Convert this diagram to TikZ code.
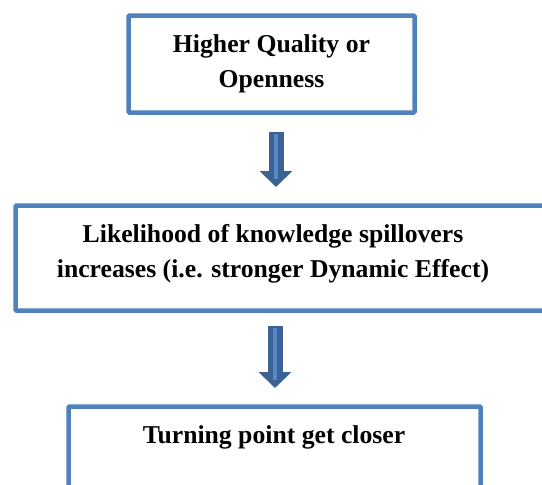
\documentclass[tikz,border=0pt]{standalone}
\usepackage{fontspec}
\setmainfont{Liberation Serif}
\usetikzlibrary{arrows.meta, calc}

\definecolor{boxblue}{RGB}{79,129,189}
\definecolor{arrowdark}{RGB}{60,98,148}
\definecolor{arrowlight}{RGB}{84,136,198}

\tikzset{
    flowbox/.style = {draw = boxblue, line width = 4.5pt, rounded corners = 1pt, inner sep = 0pt},
    boxtext/.style = {align = center, inner sep = 0pt, font = \fontsize{25.7pt}{35pt}\selectfont\bfseries},
    flowarrow/.style = {draw = arrowdark, line width = 15pt,
        -{Triangle[width = 32pt, length = 16pt]},
        postaction = {draw = arrowlight, line width = 4pt, -, shorten < = 2pt, shorten > = 8pt}}
}

\begin{document}
\begin{tikzpicture}[x = 1pt, y = -1pt]
    \useasboundingbox (0,0) rectangle (542,485);
    \clip (0,0) rectangle (542,485);
    \node[flowbox, minimum width = 286pt, minimum height = 97pt, boxtext] (quality) at (271.5,64) {Higher Quality or\\Openness};
    \node[flowbox, minimum width = 545pt, minimum height = 105pt, anchor = west] (spill) at (13.25,258) {};
    \node[boxtext] (spilltext) at (273,254) {Likelihood of knowledge spillovers\\increases (i.e. stronger Dynamic Effect)};
    \node[flowbox, minimum width = 412pt, minimum height = 120pt, anchor = north west] (turn) at (66.25,404.25) {};
    \node[boxtext] (turntext) at (274,437) {Turning point get closer};
    \draw[flowarrow] ($(quality.south)+(4.5,17.25)$) -- ($(spill.north)+(-12,-16.25)$);
    \draw[flowarrow] ($(spill.south)+(-13,13.25)$) -- ($(turn.north)+(0.5,-16.25)$);
\end{tikzpicture}
\end{document}
